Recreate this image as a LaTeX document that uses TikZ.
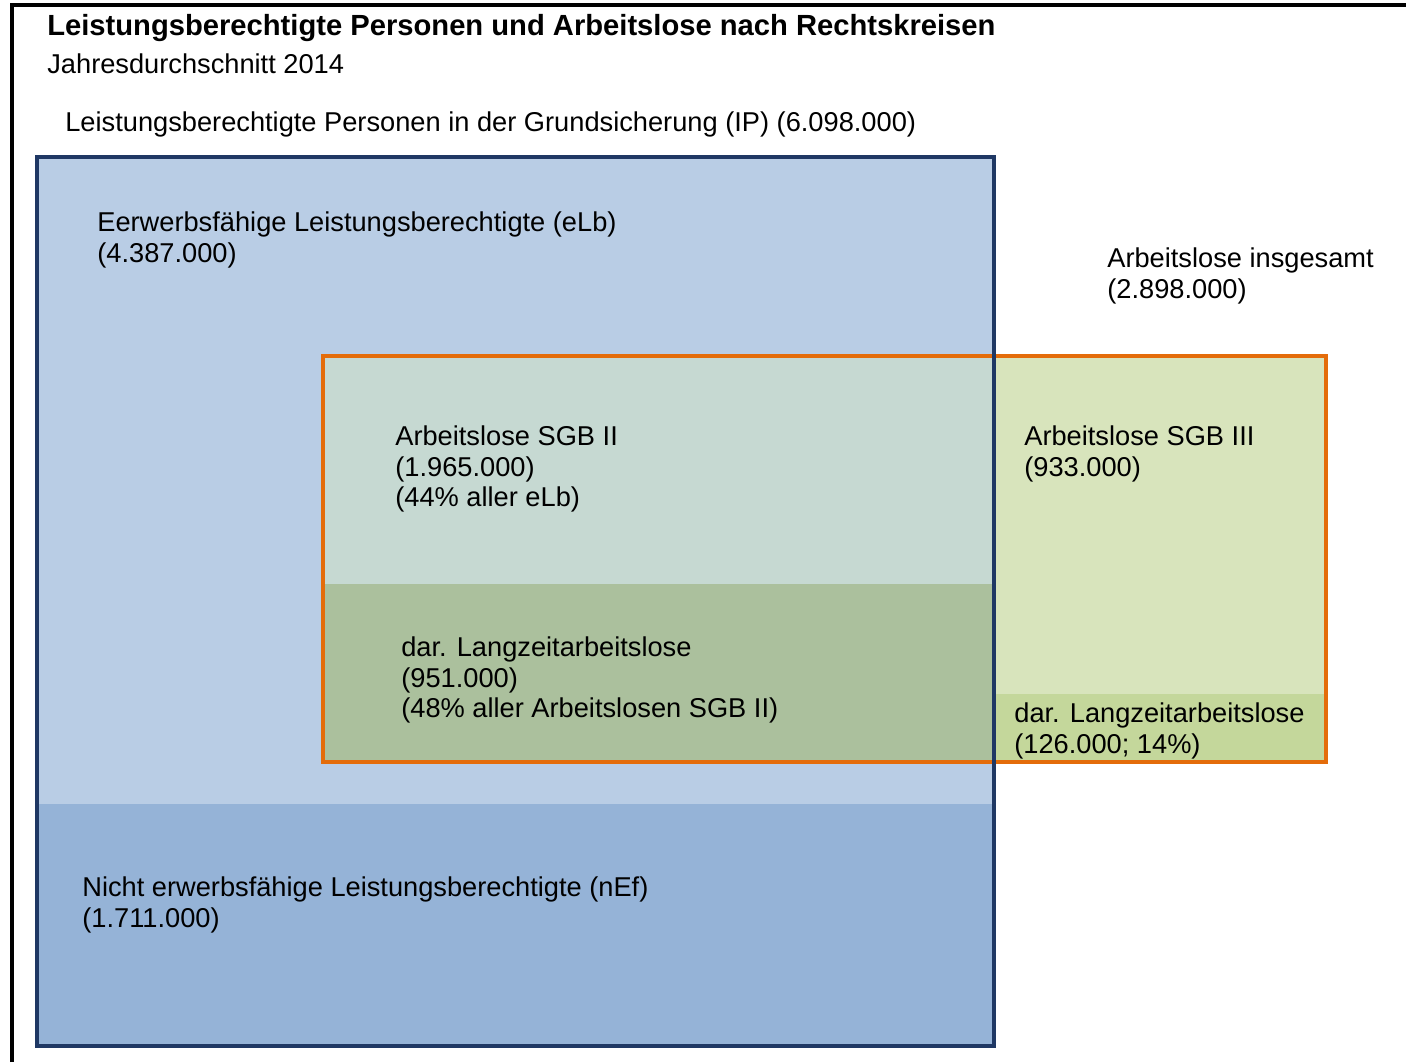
\documentclass[tikz,border=0pt]{standalone}
\usepackage{fontspec}
\setmainfont{Liberation Sans}

\definecolor{elbfill}{HTML}{B9CDE5}
\definecolor{neffill}{HTML}{95B3D7}
\definecolor{navyline}{HTML}{1F3864}
\definecolor{orangeline}{HTML}{E46C0A}
\definecolor{sgbiifill}{HTML}{C6D9D2}
\definecolor{lzaiifill}{HTML}{ABC09D}
\definecolor{sgbiiifill}{HTML}{D8E4BC}
\definecolor{lzaiiifill}{HTML}{C4D79B}

\begin{document}
\begin{tikzpicture} [
            x=0.02cm,
            y=-0.02cm,
            frame/.style = {draw=black,line width=1.9pt},
            ip box/.style = {draw=navyline,line width=2.3pt},
            alo box/.style = {draw=orangeline,line width=2.3pt},
            txt/.style = {anchor=north west,inner sep=0pt,align=left,
                font=\fontsize{15.5}{17.6}\selectfont},
            headline/.style = {txt,font=\fontsize{16.6}{19}\selectfont\bfseries}
        ]
        \useasboundingbox (0,0) rectangle (1406,1062);
        % First we fill the areas
        \foreach \from/\to/\col in {
                {(37,157)/(994,1046)/elbfill},
                {(37,804)/(994,1046)/neffill},
                {(323,356)/(994,584)/sgbiifill},
                {(323,584)/(994,762)/lzaiifill},
                {(994,356)/(1326,694)/sgbiiifill},
                {(994,694)/(1326,762)/lzaiiifill}}
            \fill[\col] \from rectangle \to;
        % Borders of the two sets
        \path[alo box] (323,356) rectangle (1326,762);
        \path[ip box] (37,157) rectangle (994,1046);
        \path[frame] (12,1062) -- (12,5) -- (1406,5);
        % Texts
        \node[headline] (title) at (47,14) {Leistungsberechtigte Personen und Arbeitslose nach Rechtskreisen};
        \node[txt] (year) at (47,53) {Jahresdurchschnitt 2014};
        \node[txt] (ip) at (65,111) {Leistungsberechtigte Personen in der Grundsicherung (IP) (6.098.000)};
        \node[txt] (elb) at (97,211) {Eerwerbsfähige Leistungsberechtigte (eLb)\\(4.387.000)};
        \node[txt] (alo) at (1107,247) {Arbeitslose insgesamt\\(2.898.000)};
        \node[txt] (sgbii) at (395,425) {Arbeitslose SGB II\\(1.965.000)\\(44\% aller eLb)};
        \node[txt] (sgbiii) at (1024,425) {Arbeitslose SGB III\\(933.000)};
        \node[txt] (lzaii) at (401,636) {dar. Langzeitarbeitslose\\(951.000)\\(48\% aller Arbeitslosen SGB II)};
        \node[txt] (lzaiii) at (1014,702) {dar. Langzeitarbeitslose\\(126.000; 14\%)};
        \node[txt] (nef) at (82,876) {Nicht erwerbsfähige Leistungsberechtigte (nEf)\\(1.711.000)};
    \end{tikzpicture}
\end{document}
